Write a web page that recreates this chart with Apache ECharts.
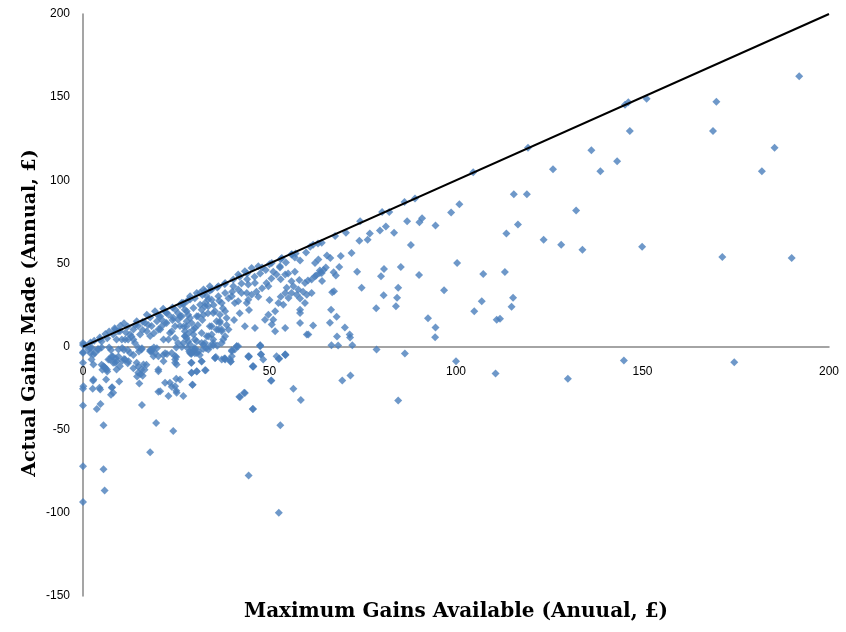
<!DOCTYPE html>
<html>
<head>
<meta charset="utf-8">
<script src="https://cdn.jsdelivr.net/npm/echarts@6/dist/echarts.min.js"></script>
<style>
html,body{margin:0;padding:0;background:#fff;}
#chart{width:846px;height:632px;}
</style>
</head>
<body>
<div id="chart"></div>
<script>
// Axis ranges / ticks
var xMin = 0, xMax = 200, xStep = 50;
var yMin = -150, yMax = 200, yStep = 50;

// Reference line: actual gains = maximum gains
var parityLine = [[0, 0], [200, 200]];

// Scatter: [maximum gains available, actual gains made]
var pointsRight = [
  [192,162.5],[169.8,147.3],[168.9,129.7],[185.4,119.5],[182,105.4],[190,53.3],[171.4,53.9],[174.6,-9.4],[145,-8.4],[130,-19.4],
  [151.1,149.1],[146.2,146.9],[145.3,145.5],[146.6,129.7],[136.3,118],[143.2,111.4],[138.7,105.4],[126,106.6],[119.3,119.5],
  [115.5,91.6],[119,91.6],[132.2,81.8],[116.6,73.4],[113.5,68],[123.5,64.3],[128.2,61.3],[133.9,58.3],[149.9,60],[113.1,44.9],
  [115.3,29.3],[114.9,23.9],[111.8,16.8]
];
var pointsMid = [
  [104.6,104.8],[100.9,85.6],[98.7,80.6],[94.5,72.8],[90.9,77.2],[90.2,74.7],[86.9,75.3],[89,89],[86.2,87],[82.1,81],[80.2,81],
  [81.2,72.2],[79.6,69.8],[83.4,68.5],[76.9,68],[76.3,64.2],[74.1,63.6],[74.3,75.3],[87.9,61.1],[72,56.3],[69.1,54.5],[66.3,53.3],
  [64.5,46.1],[63.5,44.3],[67.2,44.7],[68.7,47.9],[67.8,42.7],[64.1,39.5],[80.7,46.7],[79.9,42.3],[85.2,47.9],[90.1,43.1],
  [100.3,50.3],[107.3,43.7],[74.7,35.3],[84.5,35.3],[84.2,29.3],[83.9,24.2],[80.6,30.8],[78.6,23],[66.8,32.7],[67.3,33.3],
  [96.8,33.9],[106.9,27.3],[104.9,21.2],[110.9,16.2],[68,17.9],[71.5,7.2],[92.5,17],[94.5,11.4],[94.4,5.6],[66.6,0.8],[72.2,0.8],
  [78.7,-1.8],[86.3,-4.2],[100,-8.8],[110.6,-16.2],[69.5,-20.4],[71.7,-17.4],[84.5,-32.5],
  [58.2,51.7],[59.8,56.5],[60.9,60.1],[61.7,61.3],[56.8,53.5],[54.4,50.5],[52.8,47.5],[63.5,45.7],[62.5,42.7],[65.1,47.5],
  [65.4,54.7],[58.2,28.9],[58.2,22.2],[60.3,39.7],[61.7,12.6],[66.2,14.4],[68.1,6],[71.6,5.4],[60,7.2],[66.5,22.2],[70.2,11.4],
  [68.4,0.6],[67.6,66.5],[70.5,68.5],[73.5,45],[64,62.5]
];
var pointsBelowZero = [
  [0,-25.4],[0,-35.5],[0,-72],[0,-93.4],[0,-3.8],[0,1],[0,-3.4],[0,-9.7],[5.5,-47.3],[5.5,-73.8],[5.8,-86.6],[18,-63.5],[19.6,-45.9],
  [24.2,-50.7],[15.8,-35.1],[3.7,-37.5],[4.7,-34.5],[2.7,-20.6],[2.6,-25.4],[4.4,-24.8],[7.5,-28.9],[7.8,-24.5],[9.7,-21],
  [6.2,-19.8],[15.1,-22.2],[20.2,-27.1],[22,-21.8],[23.8,-24.2],[25,-26.6],[25,-19.4],[29.3,-23],[20.2,-13.8],[29.1,-15.8],
  [30.5,-15],[32.9,-14.2],[24.7,-9.8],[29,-9.8],[31.8,-9],[25,-6.2],[35.6,-6.2],[37.9,-7.2],[39.6,-9],[39.9,-2.2],[41.2,0.2],
  [44.4,-6.2],[47.7,-4.6],[47.5,0.8],[45.6,-12.2],[50.5,-20.4],[52.5,-7.4],[54.2,-4.8],[56.4,-25.4],[58.4,-32.1],[52.9,-47.3],
  [52.5,-100],[44.4,-77.6],[45.6,-37.5],[41.9,-30.2],[43.2,-27.8],
  [5,-11],[6,-13],[6.5,-15],[5.2,-14],[5.8,-12.5],[8,-6],[8.8,-7],[9.5,-6],[10.5,-8.5],[9,-9],[11,-7.5],[12,-10],[13.5,-13],
  [14.8,-12],[15.5,-16.5],[16.5,-14],[17,-11],[16,-17.5],[14.5,-18],[18,-2],[18.3,-3],[12,-2],[13.5,-5],[15,-3],[2.5,-1],[2,-4],
  [4,-1.5],[7,-0.5],[7.5,-2],[22,-4],[22.5,-4.5],[21.5,-5],[25,-0.5],[26.5,-0.2],[28,-0.8],[28.5,-3],[29,-4.5],[30,-4],[31,-3],
  [29.6,-1.5],[31.3,-5],[32.2,-1.5],[33,-1],[34,0],[36,0.5],[19,-0.5],[19.8,-1],[15.8,-1],[14.8,-0.5],[10.5,-0.8],[11,-2],[5,-0.5],
  [4.2,-1.8],
  [1.9,-0.8],[2.8,-4.8],[2.8,-10.8],[5.5,-11.8],[7.2,-7.8],[8.1,-9.8],[6.4,-13.8],[9,-13.8],[9.9,-11.8],[12.6,-3.8],[12.2,-8.8],
  [14.4,-9.8],[15.7,-13.8],[16.2,-10.8],[14.8,-15.8],[18,-2.8],[19.3,-3.8],[18.9,-5.8],[20.2,-14.8],[21.6,-8.8],[23.8,-3.8],
  [24.7,-7.8],[25.1,-10.8],[23.3,-21.8],[24.7,-23.8],[26,-19.8],[20.7,-26.8],[22.9,-29.8],[25.1,-27.8],[26.9,-29.8],[2.8,-19.8],
  [4.6,-25.8],[7.7,-24.8],[8.1,-27.8],[0.1,-23.8],
  [28.7,1.2],[30,-0.8],[30.5,-3.8],[29.6,-2.8],[28.7,-3.8],[32.3,1.2],[34.9,0.6],[37.2,2.2],[41.2,0.2],[39.9,-2.8],[39.4,-7.8],
  [29.1,-9.8],[31.8,-8.8],[29.1,-15.8],[30.5,-14.8],[32.7,-14.2],[29.4,-22.9],[35.4,-6.8],[38.1,-7.2],[39.6,-9.2],[44.5,-5.8],
  [45.5,-11.8],[47.7,-4.8],[47.5,0.6],[52.6,-7.2],[54.3,-5],[50.4,-20.6],[42.1,-30.3],[43.4,-27.9],[45.5,-37.5],
  [47.5,0.2],[41.6,0.2],[40.7,-1.8],[35.4,-6.8],[37.2,-7.8],[38.1,-7.8],[39.9,-5.8],[44.3,-5.8],[45.7,-11.8],[48.3,-7.8],
  [51.9,-5.8],[54.2,-4.8]
];
var pointsLowLeft = [
  [0,2.2],[8.6,10.2],[9.4,9.2],[14.4,15.2],[17.1,19.2],[19.3,21.2],[21.5,22.7],[26.5,26.3],[28.7,28.3],[31.4,32.3],[32.7,33.3],
  [20.2,10.2],[21.1,12.2],[22.4,14.2],[23.8,9.2],[24.7,12.2],[25.5,16.2],[26.5,18.2],[27.3,22.2],[28.2,19.2],[29.1,14.2],
  [29.6,10.2],[30.9,18.2],[31.8,22.2],[32.7,24.2],[33.6,28.3],[34,12.2],[33.2,6.2],[30,4.2],[27.3,6.2],[24.7,5.2],[22.9,4.2],
  [25.5,2.2],[28.2,3.2],[31.8,2.2],[33.6,-1.8],[29.1,-3.8],[24.7,-5.8],[20.2,-5.8],[18.4,-1.8],[15.7,-1.8],[13.9,2.2],[12.1,4.2],
  [10.4,4.2],[9.5,-1.8],[7.7,-5.8],[8.6,-9.8],[11.3,-7.8],[6.8,-7.8],[3.2,-3.8],[2.3,-7.8],[1.4,-1.8],
  [8.1,7.2],[9.9,9.2],[9,4.2],[11.3,4.2],[12.6,7.2],[13.5,10.3],[14.8,12.3],[16.6,14.3],[15.3,7.2],[17.1,9.2],[18,6.3],
  [18.4,12.3],[19.8,15.3],[20.7,18.3],[20.7,10.3],[22,14.3],[22.4,20.3],[23.3,8.2],[24.2,17.3],[24.7,22.3],[26,12.3],[26,18.3],
  [26.9,25.3],[27.4,6.3],[27.8,15.3],[21.6,4.2],[13.5,4.2],[4.6,4.2],
  [26.9,26.2],[28.7,30.2],[30.5,32.2],[32.3,34.3],[34,36.3],[27.8,21.2],[29.6,23.2],[31.4,25.2],[32.7,26.2],[33.2,30.2],
  [28.7,17.2],[30.5,18.2],[32.3,19.2],[27.8,12.2],[30,11.2],[27.3,9.2],[29.6,7.2],[31.8,8.2],[27.8,5.2],[30.5,3.2],[26.9,2.2],
  [30,-1.8],[32.7,2.2],[34.9,20.2],[35.8,15.2],[36.7,15.2],[36.3,10.2],[37.2,9.2],[34.5,7.2],[37.6,4.2],[34.9,2.2]
];
var pointsUpperMid = [
  [41.6,43.3],[43.4,45.3],[45.2,47.3],[47,48.3],[50.6,50.3],[53.3,53.3],[55.9,55.3],[40.3,40.3],[38.1,38.3],[36.3,36.3],[34.5,34.3],
  [52.8,48.3],[51.9,43.3],[54.2,43.3],[55.9,39.3],[56.4,36.3],[54.6,35.3],[54.2,32.2],[55.9,32.2],[57.3,31.2],[57.7,34.3],
  [55.1,29.2],[53.7,25.2],[52.4,26.2],[51.5,21.2],[48.8,16.2],[49.7,19.2],[51,16.2],[49.2,38.3],[49.7,36.3],[46.1,38.3],
  [44.3,37.3],[43.9,32.2],[45.2,31.2],[42.5,32.2],[41.6,34.3],[40.3,36.3],[39.9,30.2],[40.7,26.2],[41.6,27.2],[43.9,26.2],
  [44.3,28.2],[38.1,32.2],[36.3,30.2],[34.5,28.2],[33.6,24.2],[37.2,26.2],[36.7,19.2],[35.4,21.2],[38.1,21.2],[38.5,17.2],
  [36.7,14.2],[35.8,10.2],[37.2,10.2],[34.5,12.2],[33.6,6.2],[34.9,4.2],[38.1,6.2],[39,10.2],[43.4,12.2],[46.1,11.2],[50.6,13.2],
  [51.5,9.2],[54.2,11.2],[58.2,20.2],[58.2,14.2],[60.4,7.2],[59.5,26.2],[62.2,42.3],[64,44.3],[61.3,40.3],[62.2,50.3],[63.1,52.3],
  [59.5,38.3],[60,31.2],[61.3,32.2]
];
var pointsNearLine = [
  [0.5,1],[2,2.5],[3,3.5],[4.5,5.5],[6,7.5],[7,9],[8.5,11],[10,12.5],[11,14],[12,12],[14,13],[16,15],[18,17.5],[20,19],[22,21],
  [24,23.5],[26,25],[28,27.5],[30,29],[32,31],[34,33.5],[36,35.5],[38,37.5],[42,42],[44,44],[48,47.5],[50,49.5],[53,52.5],
  [56,55.5],[57,56],[63,62],
  [5,3],[6.5,5],[11.5,8.5],[13,6],[16,10],[17.5,13],[19,8],[21,16.5],[23,19],[24,16],[25.5,20],[27,12],[28.5,8.5],[30.8,13],
  [32,16],[33.5,20],[35,25],[36.5,27.5],[37.5,23],[39,29],[40,33],[42.5,38],[44,40.5],[46,42],[47.5,44],[49,46],[51,45],
  [53,40.5],[50.5,41],[48,35],[46.5,33],[44.5,22],[42,20],[40.5,16],[38.5,13],[47,30],[50,28],[53,30],[56.8,45],[55,44],
  [58,40],[59,33]
];

var scatterData = [].concat(pointsRight, pointsMid, pointsBelowZero, pointsLowLeft, pointsUpperMid, pointsNearLine);

var gridTop = 14, gridBottom = 36, chartH = 632;
var gridH = chartH - gridTop - gridBottom;
// move the x axis (line + labels) up to y = 0
var xAxisOffset = -gridH * (0 - yMin) / (yMax - yMin);

var chart = echarts.init(document.getElementById('chart'), null, {renderer: 'canvas'});
var axisLabelStyle = {color: '#000', fontFamily: 'Liberation Sans', fontSize: 12};

chart.setOption({
  backgroundColor: '#fff',
  animation: false,
  grid: {left: 83, right: 17, top: gridTop, bottom: gridBottom, containLabel: false},
  xAxis: {
    type: 'value', min: xMin, max: xMax, interval: xStep,
    position: 'bottom',
    offset: xAxisOffset,
    axisLine: {show: true, onZero: false, lineStyle: {color: '#878787', width: 1.5}},
    axisTick: {show: false},
    splitLine: {show: false},
    axisLabel: Object.assign({margin: 19}, axisLabelStyle)
  },
  yAxis: {
    type: 'value', min: yMin, max: yMax, interval: yStep,
    axisLine: {show: true, onZero: false, lineStyle: {color: '#878787', width: 1.5}},
    axisTick: {show: false},
    splitLine: {show: false},
    axisLabel: Object.assign({margin: 13}, axisLabelStyle)
  },
  series: [
    {
      type: 'scatter',
      data: scatterData,
      symbol: 'diamond',
      symbolSize: 8,
      itemStyle: {color: '#4A7EBB'},
      z: 2
    },
    {
      type: 'line',
      data: parityLine,
      showSymbol: false,
      symbol: 'none',
      lineStyle: {color: '#000', width: 2},
      z: 3
    }
  ],
  graphic: [
    {
      type: 'text',
      x: 456, y: 612,
      style: {
        text: 'Maximum Gains Available (Anuual, £)',
        font: 'bold 20px "DejaVu Serif"',
        fill: '#000',
        textAlign: 'center',
        textVerticalAlign: 'middle'
      }
    },
    {
      type: 'text',
      x: 30, y: 313,
      rotation: Math.PI / 2,
      style: {
        text: 'Actual Gains Made (Annual, £)',
        font: 'bold 19px "DejaVu Serif"',
        fill: '#000',
        textAlign: 'center',
        textVerticalAlign: 'middle'
      }
    }
  ]
});
</script>
</body>
</html>
